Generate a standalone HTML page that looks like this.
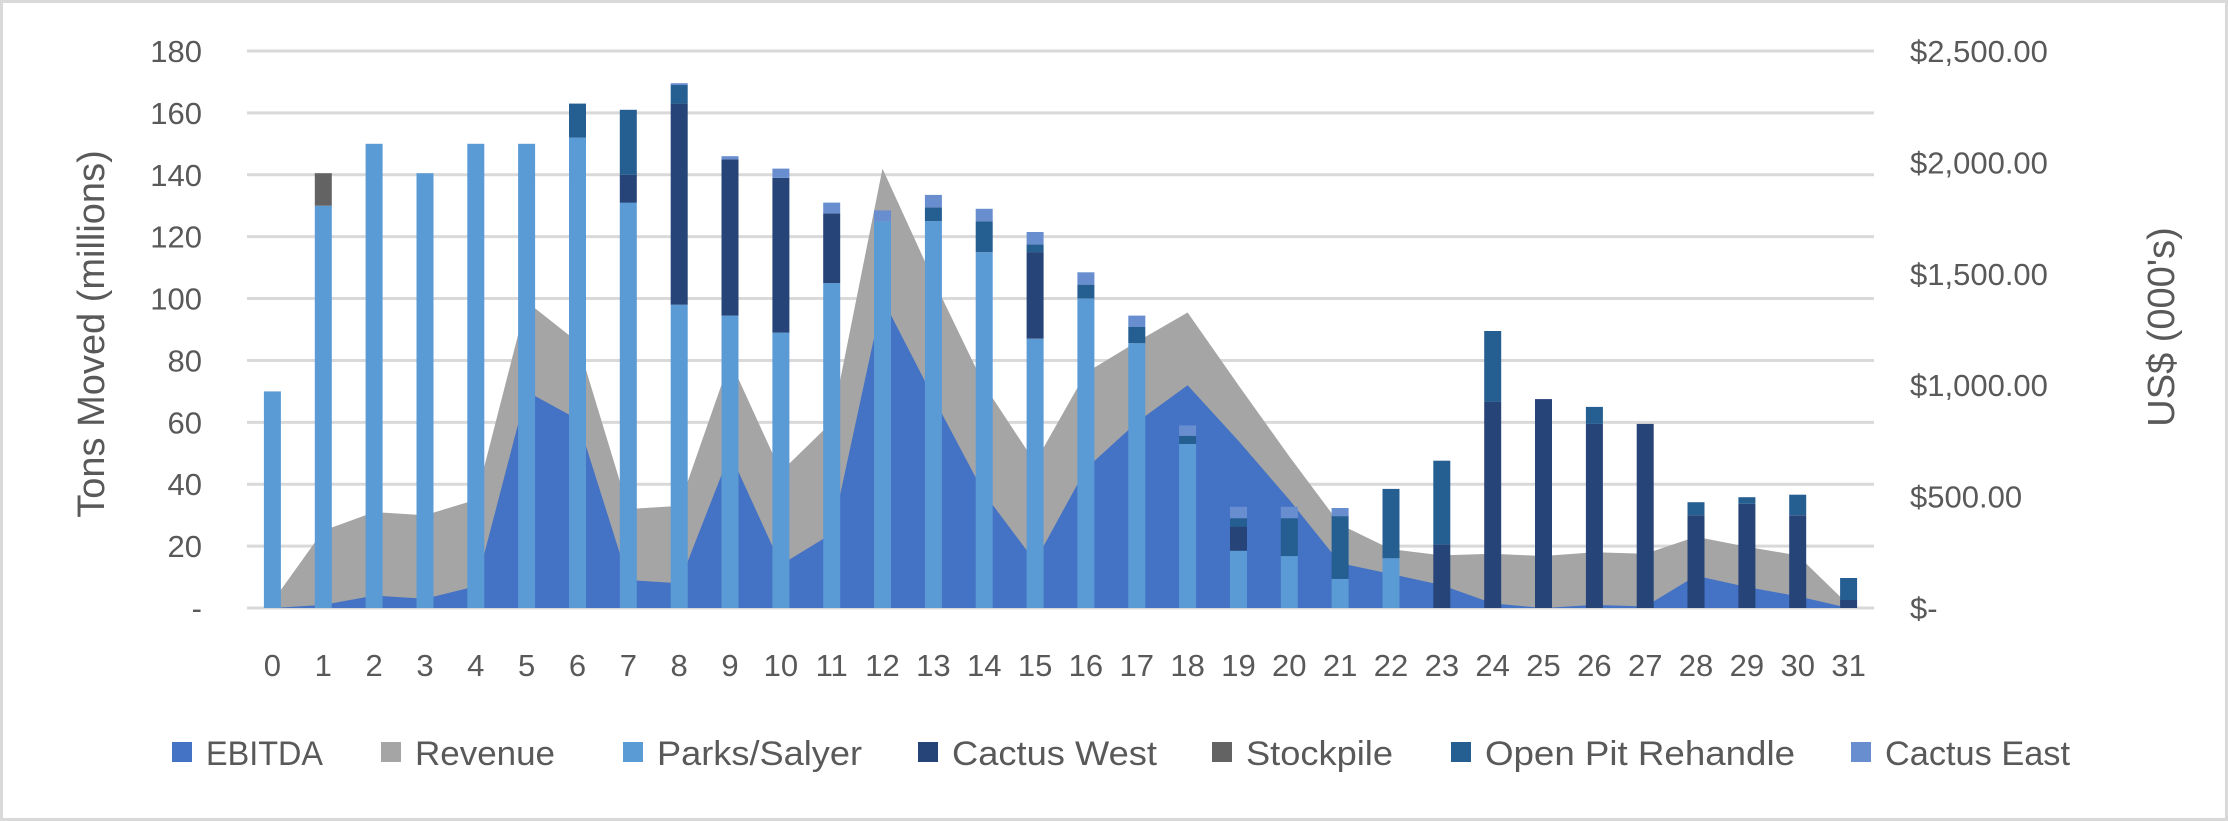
<!DOCTYPE html>
<html><head><meta charset="utf-8">
<style>
html,body{margin:0;padding:0;background:#fff;}
svg{display:block;font-family:"Liberation Sans",Arial,sans-serif;}
</style></head>
<body>
<svg id="c" width="2228" height="821" viewBox="0 0 2228 821" xmlns="http://www.w3.org/2000/svg">
<rect x="1.5" y="1.5" width="2225" height="818" fill="#fff" stroke="#d9d9d9" stroke-width="3"/>
<g id="g"></g>
</svg>
<script>
const NS="http://www.w3.org/2000/svg";
const g=document.getElementById('g');
function el(t,a,txt){const e=document.createElementNS(NS,t);for(const k in a)e.setAttribute(k,a[k]);if(txt!==undefined)e.textContent=txt;g.appendChild(e);return e;}
const L=247,R=1874,Y0=608,Y180=51;
const cw=(R-L)/32;
const yy=v=>Y0-(Y0-Y180)*v/180;
const cx=i=>L+cw*(i+0.5);
for(let v=0;v<=180;v+=20){el('line',{x1:L,x2:R,y1:yy(v),y2:yy(v),stroke:'#d9d9d9','stroke-width':3});}
const rev=[2,25,31,30,35,99,86,32,33,80,44,60,142,106,72,47,76,86,95.5,72,49,27,19,17,17.5,16.8,18,17.5,23,19.8,17,1];
const eb=[0,1,4,3,7,70,61,9,8,50,14,24,100,68,37,15,45,60,72,54,35,14.5,11,7.4,1.5,0,1,0.5,10.4,6.8,3.8,0];
function area(d,col){let p='M'+cx(0)+','+Y0;d.forEach((v,i)=>p+=' L'+cx(i).toFixed(1)+','+yy(v).toFixed(1));p+=' L'+cx(31)+','+Y0+'Z';el('path',{d:p,fill:col});}
area(rev,'#a5a5a5');area(eb,'#4472c4');
const C={P:'#5b9bd5',W:'#264478',S:'#636363',O:'#255e91',E:'#698ed0'};
const bars=[
[['P',70]],[['P',130],['S',140.5]],[['P',150]],[['P',140.5]],[['P',150]],[['P',150]],
[['P',152],['O',163]],[['P',131],['W',140],['O',161]],[['P',98],['W',163],['O',169],['E',169.6]],
[['P',94.5],['W',145],['E',146]],[['P',89],['W',139],['E',142]],[['P',105],['W',127.5],['E',131]],
[['P',125],['E',128.5]],[['P',125],['O',129.5],['E',133.5]],[['P',115],['O',125],['E',129]],
[['P',87],['W',115],['O',117.5],['E',121.5]],[['P',100],['O',104.5],['E',108.5]],
[['P',85.6],['O',90.8],['E',94.5]],[['P',53],['O',55.6],['E',59]],
[['P',18.5],['W',26.3],['O',29],['E',32.7]],[['P',16.8],['O',29],['E',32.7]],
[['P',9.4],['O',29.7],['E',32.3]],[['P',16.1],['O',38.5]],[['W',20.5],['O',47.6]],
[['W',66.7],['O',89.5]],[['W',67.5]],[['W',59.5],['O',65]],[['W',59.5]],
[['W',30],['O',34.2]],[['W',33.7],['O',35.8]],[['W',30],['O',36.6]],[['W',2.6],['O',9.7]]];
const bw=17;
bars.forEach((b,i)=>{let prev=0;b.forEach(([k,t])=>{el('rect',{x:(cx(i)-bw/2).toFixed(1),y:yy(t).toFixed(1),width:bw,height:(yy(prev)-yy(t)).toFixed(1),fill:C[k]});prev=t;});});
for(let v=0;v<=180;v+=20){el('text',{x:202,y:yy(v)+11,'text-anchor':'end','font-size':31,fill:'#595959'},v==0?'-':String(v));}
const rl=['$-','$500.00','$1,000.00','$1,500.00','$2,000.00','$2,500.00'];
rl.forEach((t,i)=>{const v=i*500/13.8889;el('text',{x:1910,y:yy(v)+11,'font-size':31,fill:'#595959'},t);});
for(let i=0;i<32;i++)el('text',{x:cx(i),y:676,'text-anchor':'middle','font-size':31,fill:'#595959'},String(i));
el('text',{x:0,y:0,transform:'translate(104,334) rotate(-90)','text-anchor':'middle','font-size':38,fill:'#595959'},'Tons Moved (millions)');
el('text',{x:0,y:0,transform:'translate(2174,327) rotate(-90)','text-anchor':'middle','font-size':38,fill:'#595959'},"US$ (000's)");
const lg=[['EBITDA','#4472c4',172,117],['Revenue','#a5a5a5',381,140],['Parks/Salyer','#5b9bd5',623,205],['Cactus West','#264478',918,205],['Stockpile','#636363',1212,147],['Open Pit Rehandle','#255e91',1451,310],['Cactus East','#698ed0',1851,185]];
lg.forEach(([t,c,x,w])=>{el('rect',{x:x,y:742,width:20,height:20,fill:c});el('text',{x:x+34,y:765,'font-size':34,fill:'#595959',textLength:w,lengthAdjust:'spacingAndGlyphs'},t);});
</script>
</body></html>
